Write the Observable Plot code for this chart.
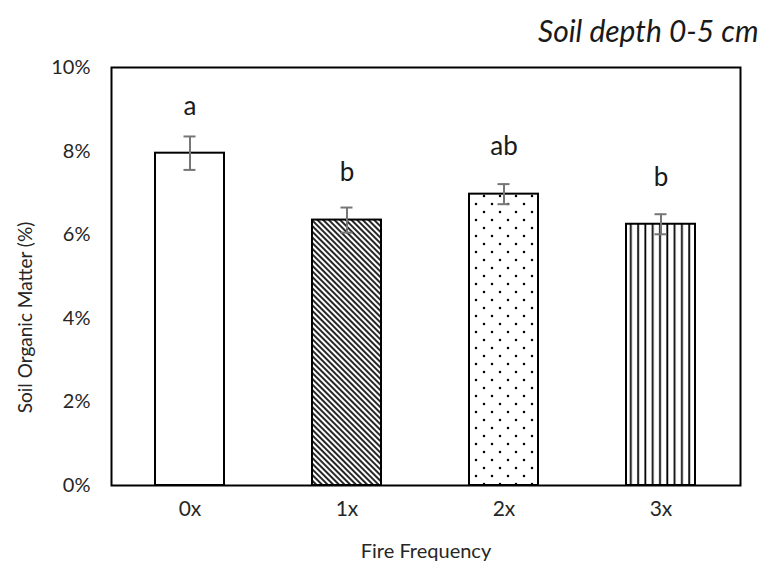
<!DOCTYPE html>
<html>
<head>
<meta charset="utf-8">
<script src="https://cdn.jsdelivr.net/npm/d3@7"></script>
<script src="https://cdn.jsdelivr.net/npm/@observablehq/plot@0.6"></script>
<style>
  html, body { margin: 0; padding: 0; background: #fff; }
  #chart svg { display: block; }
</style>
</head>
<body>
<div id="chart"></div>
<script>
// ---- data ----
const categories = ["0x", "1x", "2x", "3x"];
const means = [7.95, 6.35, 6.97, 6.25];      // Soil organic matter (%)
const errors = [0.40, 0.30, 0.24, 0.24];     // error bar half-length (%)
const letters = ["a", "b", "ab", "b"];
const yTicks = [0, 2, 4, 6, 8, 10];

// ---- styles (not data) ----
const patternFor = {"0x": "white", "1x": "url(#hatch)", "2x": "url(#dots)", "3x": "url(#vlines)"};

const rows = categories.map((c, i) => ({
  cat: c, mean: means[i], lo: means[i] - errors[i], hi: means[i] + errors[i],
  letter: letters[i], fill: patternFor[c]
}));

const font = "Lato, 'Open Sans', sans-serif";

const svg = Plot.plot({
  width: 765,
  height: 571,
  marginTop: 67,
  marginLeft: 111,
  marginRight: 25,
  marginBottom: 86,
  style: {fontFamily: font, fontSize: "20px", color: "#262626", background: "white"},
  x: {domain: categories, paddingInner: 0.56, paddingOuter: 0.28, label: null},
  y: {domain: [0, 10], label: null},
  color: {type: "identity"},
  marks: [
    Plot.barY(rows, {x: "cat", y: "mean", fill: "fill", stroke: "black", strokeWidth: 2}),
    Plot.ruleX(rows, {x: "cat", y1: "lo", y2: "hi", stroke: "#767676", strokeWidth: 2}),
    Plot.tickY(rows, {x: "cat", y: "hi", stroke: "#767676", strokeWidth: 2, insetLeft: 28.5, insetRight: 28.5}),
    Plot.tickY(rows, {x: "cat", y: "lo", stroke: "#767676", strokeWidth: 2, insetLeft: 28.5, insetRight: 28.5}),
    Plot.text(rows, {x: "cat", y: "mean", text: "letter", dy: -47, fontSize: 26, fill: "#1a1a1a", lineAnchor: "middle"}),
    Plot.frame({stroke: "black", strokeWidth: 2}),
    Plot.axisY({ticks: yTicks, tickFormat: d => d + "%", tickSize: 0, tickPadding: 21, fontSize: 20, label: null}),
    Plot.axisX({tickSize: 0, tickPadding: 16, fontSize: 21, label: null}),
    Plot.text(["Fire Frequency"], {frameAnchor: "bottom", dy: 66, lineAnchor: "middle", fontSize: 20, fill: "#262626"}),
    Plot.text(["Soil Organic Matter (%)"], {frameAnchor: "left", textAnchor: "middle", dx: -86, dy: 41, rotate: -90, lineAnchor: "middle", fontSize: 19, fill: "#262626"}),
    Plot.text(["Soil depth 0-5 cm"], {frameAnchor: "top-right", textAnchor: "end", dx: 18, dy: -35, lineAnchor: "middle", fontSize: 30, fontStyle: "italic", fill: "#1a1a1a"})
  ]
});

// pattern definitions
const defs = d3.select(svg).insert("defs", ":first-child");
const hatch = defs.append("pattern").attr("id", "hatch").attr("patternUnits", "userSpaceOnUse")
  .attr("width", 4).attr("height", 4).attr("patternTransform", "rotate(-45)");
hatch.append("rect").attr("width", 4).attr("height", 4).attr("fill", "white");
hatch.append("line").attr("x1", 1).attr("y1", 0).attr("x2", 1).attr("y2", 4).attr("stroke", "black").attr("stroke-width", 1.7);

const dots = defs.append("pattern").attr("id", "dots").attr("patternUnits", "userSpaceOnUse")
  .attr("width", 16).attr("height", 16);
dots.append("rect").attr("width", 16).attr("height", 16).attr("fill", "white");
dots.append("circle").attr("cx", 4).attr("cy", 4).attr("r", 1.25).attr("fill", "black");
dots.append("circle").attr("cx", 12).attr("cy", 12).attr("r", 1.25).attr("fill", "black");

const vl = defs.append("pattern").attr("id", "vlines").attr("patternUnits", "userSpaceOnUse")
  .attr("width", 7.3).attr("height", 10);
vl.append("rect").attr("width", 7.3).attr("height", 10).attr("fill", "white");
vl.append("line").attr("x1", 3).attr("y1", 0).attr("x2", 3).attr("y2", 10).attr("stroke", "black").attr("stroke-width", 1.8);

document.getElementById("chart").appendChild(svg);
</script>
</body>
</html>
